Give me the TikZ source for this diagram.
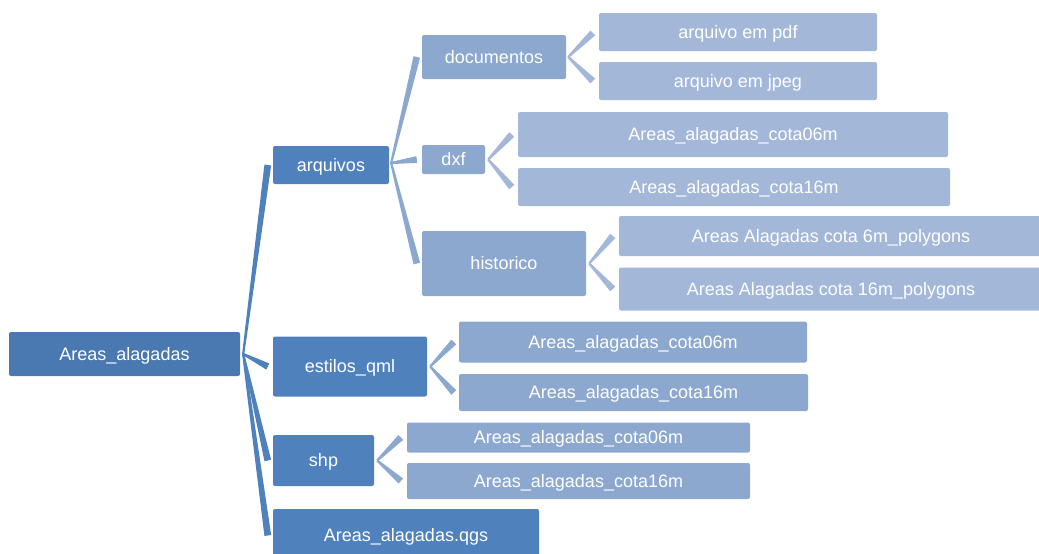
\documentclass[tikz,border=0pt]{standalone}
\usepackage{fontspec}
\setmainfont{Liberation Sans}
\usetikzlibrary{calc}
\definecolor{c0}{HTML}{4A78B0}
\definecolor{c1}{HTML}{4F81BD}
\definecolor{c2}{HTML}{8DA8CF}
\definecolor{c3}{HTML}{A3B7D8}
\tikzset{
  box/.style={rectangle, rounded corners=2pt, inner sep=0pt, text=white,
    text height=12.9pt, text depth=0pt,
    font=\fontsize{18}{20}\selectfont},
  b0/.style={box, fill=c0},
  b1/.style={box, fill=c1},
  b2/.style={box, fill=c2},
  b3/.style={box, fill=c3},
}
% wedge connector: #1 colour, #2 start, #3 end
\newcommand{\wedgeconn}[3]{%
  \fill[#1] ($#2!1.1pt!90:#3$) -- ($#3!3.4pt!-90:#2$) -- ($#3!3.4pt!90:#2$) -- ($#2!1.1pt!-90:#3$) -- cycle;}
\begin{document}
\begin{tikzpicture}[x=1pt,y=-1pt]
\useasboundingbox (0,0) rectangle (1039,554);
% root
\node[b0, minimum width=231pt, minimum height=44pt] (root) at (124.5,354) {Areas\_alagadas};
% level 1
\node[b1, minimum width=116pt, minimum height=38pt] (arq) at (331,165) {arquivos};
\node[b1, minimum width=154pt, minimum height=60pt] (est) at (350,366.5) {estilos\_qml};
\node[b1, minimum width=101pt, minimum height=51pt] (shp) at (323.5,460.5) {shp};
\node[b1, minimum width=266pt, minimum height=53pt] (qgs) at (406,535.5) {Areas\_alagadas.qgs};
% level 2 under arquivos
\node[b2, minimum width=144pt, minimum height=44pt] (doc) at (494,57) {documentos};
\node[b2, minimum width=63pt, minimum height=29pt] (dxf) at (453.5,159.5) {dxf};
\node[b2, minimum width=164pt, minimum height=65pt] (his) at (504,263.5) {historico};
% level 2 under estilos
\node[b2, minimum width=348pt, minimum height=41pt] (e06) at (633,342) {Areas\_alagadas\_cota06m};
\node[b2, minimum width=349pt, minimum height=37pt] (e16) at (633.5,392.5) {Areas\_alagadas\_cota16m};
% level 2 under shp
\node[b2, minimum width=343pt, minimum height=30pt] (s06) at (578.5,437.5) {Areas\_alagadas\_cota06m};
\node[b2, minimum width=343pt, minimum height=36pt] (s16) at (578.5,481) {Areas\_alagadas\_cota16m};
% level 3
\node[b3, minimum width=278pt, minimum height=38pt] (pdf) at (738,32) {arquivo em pdf};
\node[b3, minimum width=278pt, minimum height=38pt] (jpg) at (738,81) {arquivo em jpeg};
\node[b3, minimum width=430pt, minimum height=45pt] (d06) at (733,134.5) {Areas\_alagadas\_cota06m};
\node[b3, minimum width=432pt, minimum height=38pt] (d16) at (734,187) {Areas\_alagadas\_cota16m};
\node[b3, minimum width=424pt, minimum height=40pt] (h06) at (831,236) {Areas Alagadas cota 6m\_polygons};
\node[b3, minimum width=424pt, minimum height=43pt] (h16) at (831,289) {Areas Alagadas cota 16m\_polygons};
% connector origins
\coordinate (o0) at ($(root.east)+(3,0)$);
\coordinate (oa) at ($(arq.east)+(2,-2)$);
\coordinate (od) at ($(doc.east)+(2,0)$);
\coordinate (ox) at ($(dxf.east)+(3,0)$);
\coordinate (oh) at ($(his.east)+(3,0)$);
\coordinate (oe) at ($(est.east)+(3,0)$);
\coordinate (os) at ($(shp.east)+(3,0)$);
% connectors
\wedgeconn{c1}{(o0)}{($(arq.west)+(-5,0)$)}
\wedgeconn{c1}{(o0)}{($(est.west)+(-5,0)$)}
\wedgeconn{c1}{(o0)}{($(shp.west)+(-5,0)$)}
\wedgeconn{c1}{(o0)}{($(qgs.west)+(-5,0)$)}
\wedgeconn{c2}{(oa)}{($(doc.west)+(-5,0)$)}
\wedgeconn{c2}{(oa)}{($(dxf.west)+(-5,0)$)}
\wedgeconn{c2}{(oa)}{($(his.west)+(-5,0)$)}
\wedgeconn{c3}{(od)}{($(pdf.west)+(-6,1)$)}
\wedgeconn{c3}{(od)}{($(jpg.west)+(-6,0)$)}
\wedgeconn{c3}{(ox)}{($(d06.west)+(-6,0)$)}
\wedgeconn{c3}{(ox)}{($(d16.west)+(-6,0)$)}
\wedgeconn{c3}{(oh)}{($(h06.west)+(-6,0)$)}
\wedgeconn{c3}{(oh)}{($(h16.west)+(-6,0)$)}
\wedgeconn{c2}{(oe)}{($(e06.west)+(-5,0)$)}
\wedgeconn{c2}{(oe)}{($(e16.west)+(-5,0)$)}
\wedgeconn{c2}{(os)}{($(s06.west)+(-6,0)$)}
\wedgeconn{c2}{(os)}{($(s16.west)+(-6,0)$)}
\end{tikzpicture}
\end{document}
